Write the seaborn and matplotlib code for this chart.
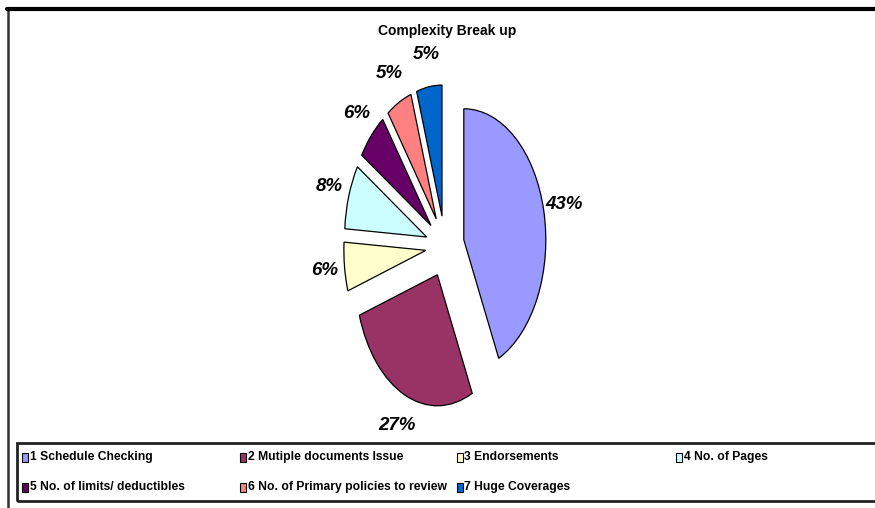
import matplotlib
matplotlib.use("Agg")
import matplotlib.pyplot as plt
from matplotlib.patches import Rectangle
from matplotlib.lines import Line2D
import seaborn as sns

# ---- data ----
categories = ["1 Schedule Checking", "2 Mutiple documents Issue", "3 Endorsements",
              "4 No. of Pages", "5 No. of limits/ deductibles",
              "6 No. of Primary policies to review", "7 Huge Coverages"]
values = [43, 27, 6, 8, 6, 5, 5]
colors = ["#9999FF", "#993366", "#FFFFCC", "#CCFFFF", "#660066", "#FF8080", "#0066CC"]
title = "Complexity Break up"

sns.set_theme(style="white")
plt.rcParams['font.family'] = ['Liberation Sans', 'DejaVu Sans']
plt.rcParams['text.color'] = 'black'

W, H = 875, 508
fig = plt.figure(figsize=(W / 100, H / 100), dpi=100)
fig.patch.set_facecolor("white")

def fx(px):
    return px / W

def fy(py):
    return 1 - py / H

# pie axes: centre (445, 246.5), x radius 82 px, y radius 131 px, data range [-1.5, 1.5]
cx, cy, rx, ry = 445, 246.5, 82, 131
ax = fig.add_axes([fx(cx - 1.5 * rx), fy(cy + 1.5 * ry), 3 * rx / W, 3 * ry / H])

wedges, texts, autotexts = ax.pie(
    values, colors=colors, startangle=90, counterclock=False,
    explode=[0.235] * len(values), radius=1.0,
    autopct=lambda p: f"{p:.0f}%", pctdistance=1.25,
    wedgeprops=dict(edgecolor="black", linewidth=0.9),
    textprops=dict(fontsize=13.5, fontweight="bold", fontstyle="italic", color="black"),
    frame=False)
ax.set_xlim(-1.5, 1.5)
ax.set_ylim(-1.5, 1.5)
ax.set_aspect('auto')
ax.axis('off')
for t in autotexts:
    t.set_clip_on(False)

# title
fig.text(fx(447), fy(31), title, ha="center", va="center", fontsize=10, fontweight="bold",
         color="black")

# outer frame (top and left visible)
fig.add_artist(Line2D([fx(8), fx(8)], [fy(9), fy(520)], color="#333333", linewidth=1.8,
                      transform=fig.transFigure))
fig.add_artist(Line2D([fx(7), fx(880)], [fy(9), fy(9)], color="black", linewidth=3,
                      transform=fig.transFigure))

# legend box
fig.add_artist(Rectangle((fx(17), fy(501)), fx(900) - fx(17), fy(443) - fy(501),
                         transform=fig.transFigure, facecolor="none",
                         edgecolor="#222222", linewidth=2))
col_x = [22, 240, 457, 676]
row_y = [457, 487]
for i, (lab, col) in enumerate(zip(categories, colors)):
    r, c = divmod(i, 4)
    x0, y0 = col_x[c], row_y[r]
    fig.add_artist(Rectangle((fx(x0), fy(y0 + 4.5)), 5.5 / W, 9 / H,
                             transform=fig.transFigure, facecolor=col,
                             edgecolor="black", linewidth=0.8))
    fig.text(fx(x0 + 7.5), fy(y0), lab, ha="left", va="center",
             fontsize=8.7, fontweight="bold", color="black")

fig.savefig("out.png", dpi=100, facecolor="white")
